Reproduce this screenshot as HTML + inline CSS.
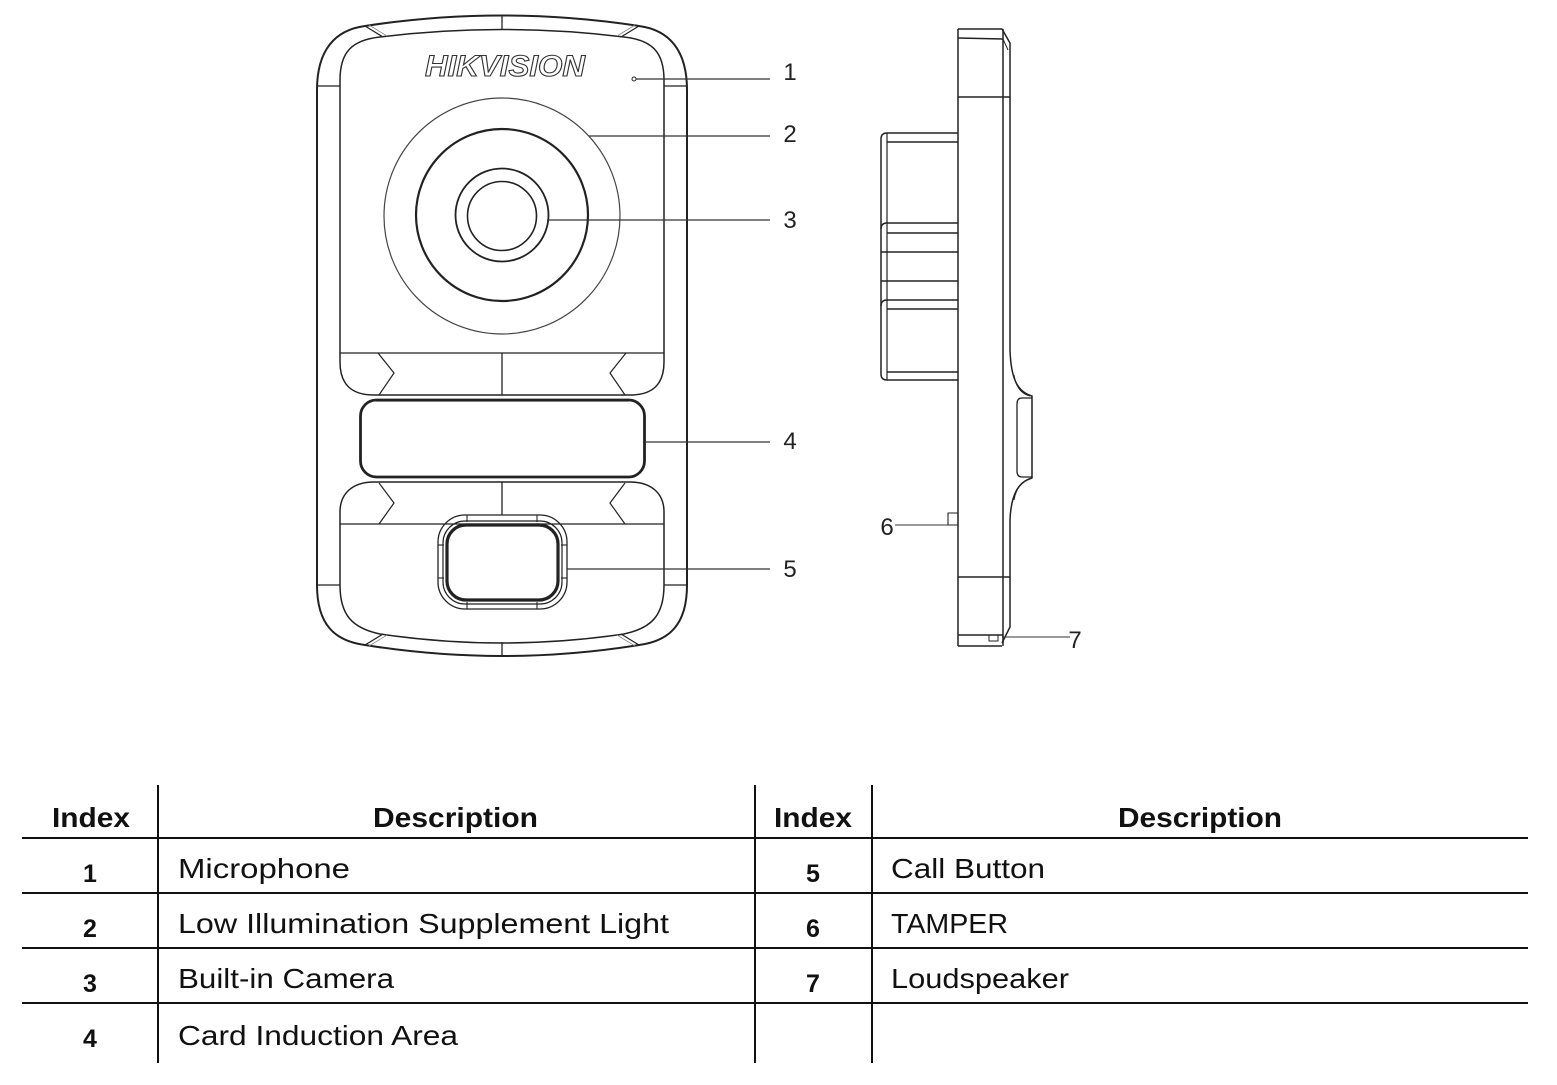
<!DOCTYPE html>
<html>
<head>
<meta charset="utf-8">
<style>
  html, body { margin:0; padding:0; background:#fff; }
  svg { display:block; }
  .t { font-family: "Liberation Sans", Arial, sans-serif; fill:#111; }
</style>
</head>
<body>
<svg width="1557" height="1085" viewBox="0 0 1557 1085" xmlns="http://www.w3.org/2000/svg">
  <rect x="0" y="0" width="1557" height="1085" fill="#fff"/>

  <!-- ================= FRONT VIEW ================= -->
  <g fill="none" stroke="#222" stroke-linejoin="round">
    <!-- outer body -->
    <path d="M317,585 L317,90 C317,50 335,30 365,26 Q502,5 639,26 C669,30 687,50 687,90 L687,585 C687,625 669,641 639,645 Q502,667 365,645 C335,641 317,625 317,585 Z" stroke-width="2"/>
    <!-- bezel top inner line -->
    <path d="M340,353 L340,80 C340,52 352,40 380,37 Q502,22 624,37 C652,40 664,52 664,80 L664,353" stroke-width="1.5"/>
    <!-- upper panel bottom segment -->
    <path d="M340,353 L340,362 C340,385 352,395 374,395 L630,395 C652,395 664,385 664,362 L664,353" stroke-width="1.5"/>
    <line x1="340" y1="353" x2="664" y2="353" stroke-width="1.3"/>
    <line x1="502" y1="353" x2="502" y2="395" stroke-width="1.3"/>
    <polyline points="378,353 394,373 379,395" stroke-width="1.2"/>
    <polyline points="626,353 610,373 625,395" stroke-width="1.2"/>

    <!-- lower panel -->
    <path d="M340,585 L340,512 C340,494 352,482 374,482 L630,482 C652,482 664,494 664,512 L664,585 C664,615 652,628 624,634 Q502,652 380,634 C352,628 340,615 340,585" stroke-width="1.5"/>
    <line x1="340" y1="524" x2="664" y2="524" stroke-width="1.3"/>
    <line x1="502" y1="482" x2="502" y2="515" stroke-width="1.3"/>
    <polyline points="379,483 394,503 379,524" stroke-width="1.2"/>
    <polyline points="625,483 610,503 625,524" stroke-width="1.2"/>

    <!-- ticks on body -->
    <line x1="317" y1="86" x2="340" y2="86" stroke-width="1.3"/>
    <line x1="664" y1="86" x2="687" y2="86" stroke-width="1.3"/>
    <line x1="317" y1="585" x2="340" y2="585" stroke-width="1.3"/>
    <line x1="664" y1="585" x2="687" y2="585" stroke-width="1.3"/>
    <line x1="502" y1="15" x2="502" y2="30" stroke-width="1.3"/>
    <line x1="502" y1="642" x2="502" y2="656" stroke-width="1.3"/>
    <line x1="365" y1="26" x2="383" y2="37" stroke-width="1.2"/>
    <line x1="369" y1="25" x2="387" y2="36" stroke-width="0.8" stroke="#888"/>
    <line x1="639" y1="26" x2="621" y2="37" stroke-width="1.2"/>
    <line x1="635" y1="25" x2="617" y2="36" stroke-width="0.8" stroke="#888"/>
    <line x1="365" y1="645" x2="383" y2="634" stroke-width="1.2"/>
    <line x1="369" y1="646" x2="387" y2="635" stroke-width="0.8" stroke="#888"/>
    <line x1="639" y1="645" x2="621" y2="634" stroke-width="1.2"/>
    <line x1="635" y1="646" x2="617" y2="635" stroke-width="0.8" stroke="#888"/>

    <!-- camera circles -->
    <circle cx="502" cy="216" r="118" stroke-width="1.2" stroke="#444"/>
    <circle cx="502" cy="215" r="86" stroke-width="2.2"/>
    <circle cx="502" cy="215" r="46.5" stroke-width="1.8"/>
    <circle cx="502" cy="216" r="34.5" stroke-width="1.6"/>

    <!-- card area -->
    <rect x="360.5" y="400" width="284" height="77" rx="16" ry="16" stroke-width="2.8"/>
    <line x1="376" y1="401.5" x2="629" y2="401.5" stroke-width="0.8" stroke="#777"/>

    <!-- call button -->
    <rect x="438" y="515" width="129" height="94" rx="27" ry="27" stroke-width="1.3"/>
    <rect x="443" y="521" width="119" height="83" rx="22" ry="22" stroke-width="1.2"/>
    <rect x="447" y="525" width="111" height="75" rx="19" ry="19" stroke-width="3.2"/>
    <line x1="467" y1="515" x2="467" y2="522" stroke-width="1.1"/>
    <line x1="537" y1="515" x2="537" y2="522" stroke-width="1.1"/>
    <line x1="467" y1="602" x2="467" y2="609" stroke-width="1.1"/>
    <line x1="537" y1="602" x2="537" y2="609" stroke-width="1.1"/>
    <line x1="438" y1="545" x2="444" y2="545" stroke-width="1.1"/>
    <line x1="438" y1="578" x2="444" y2="578" stroke-width="1.1"/>
    <line x1="561" y1="545" x2="567" y2="545" stroke-width="1.1"/>
    <line x1="561" y1="578" x2="567" y2="578" stroke-width="1.1"/>

    <!-- leader lines -->
    <g stroke="#333" stroke-width="1.2">
      <line x1="634" y1="79" x2="770" y2="79"/>
      <line x1="589" y1="136" x2="770" y2="136"/>
      <line x1="547" y1="220" x2="770" y2="220"/>
      <line x1="645" y1="442" x2="770" y2="442"/>
      <line x1="567" y1="569" x2="770" y2="569"/>
    </g>
    <circle cx="634" cy="79" r="2" stroke-width="1" fill="#fff"/>
  </g>

  <!-- logo -->
  <text x="425" y="76" font-family="Liberation Sans, Arial, sans-serif" font-size="30" font-weight="bold" font-style="italic" fill="#fff" stroke="#333" stroke-width="1.1" textLength="160" lengthAdjust="spacingAndGlyphs">HIKVISION</text>

  <!-- labels -->
  <g class="t" font-size="24" text-anchor="middle" style="fill:#222">
    <text x="790" y="80">1</text>
    <text x="790" y="142">2</text>
    <text x="790" y="228">3</text>
    <text x="790" y="449">4</text>
    <text x="790" y="577">5</text>
    <text x="887" y="535">6</text>
    <text x="1075" y="648">7</text>
  </g>

  <!-- ================= SIDE VIEW ================= -->
  <g fill="none" stroke="#222" stroke-width="1.5" stroke-linejoin="round">
    <!-- plate -->
    <path d="M958,29 L1002,29 L1010,43 L1010,350"/>
    <line x1="958" y1="29" x2="958" y2="646"/>
    <line x1="1003" y1="29" x2="1003" y2="646"/>
    <line x1="958" y1="38" x2="1003" y2="39"/>
    <line x1="1003" y1="39" x2="1008" y2="50" stroke-width="1"/>
    <line x1="958" y1="97" x2="1010" y2="97"/>
    <!-- bump -->
    <path d="M1010,350 C1011,380 1018,392 1032,396 L1032,478 C1018,482 1011,495 1010,520 L1010,627 L1002,643"/>
    <path d="M1014,375 C1016,388 1022,394 1030,396" stroke-width="1"/>
    <path d="M1014,500 C1016,488 1022,481 1030,479" stroke-width="1"/>
    <path d="M1032,398 L1022,398 Q1017,398 1017,404 L1017,471 Q1017,477 1022,477 L1032,477" stroke-width="1.3"/>
    <!-- bottom -->
    <line x1="958" y1="646" x2="1002" y2="646"/>
    <line x1="958" y1="577" x2="1010" y2="577"/>
    <line x1="958" y1="635" x2="1003" y2="635"/>
    <rect x="989" y="635" width="9" height="6" stroke-width="1"/>
    <!-- tamper -->
    <rect x="948" y="513" width="10" height="12" stroke-width="1.1"/>
    <line x1="948" y1="525" x2="895" y2="525" stroke="#333" stroke-width="1.1"/>
    <line x1="1002" y1="637" x2="1070" y2="637" stroke="#333" stroke-width="1.1"/>
    <!-- protrusion -->
    <path d="M958,133 L887,133 Q881,133 881,139 L881,374 Q881,380 887,380 L958,380"/>
    <line x1="887" y1="133" x2="887" y2="380" stroke-width="1.2"/>
    <line x1="887" y1="142" x2="958" y2="142"/>
    <path d="M958,223 L887,223 Q881,223 881,229"/>
    <line x1="887" y1="233" x2="958" y2="233"/>
    <line x1="881" y1="252" x2="958" y2="252"/>
    <line x1="881" y1="281" x2="958" y2="281"/>
    <path d="M958,300 L887,300 Q881,300 881,306"/>
    <line x1="887" y1="309" x2="958" y2="309"/>
    <line x1="887" y1="372" x2="958" y2="372"/>
  </g>

  <!-- ================= TABLE ================= -->
  <g stroke="#111" stroke-width="2">
    <line x1="158" y1="785" x2="158" y2="1063"/>
    <line x1="755" y1="785" x2="755" y2="1063"/>
    <line x1="872" y1="785" x2="872" y2="1063"/>
    <line x1="22" y1="838" x2="1528" y2="838"/>
    <line x1="22" y1="893" x2="1528" y2="893"/>
    <line x1="22" y1="948" x2="1528" y2="948"/>
    <line x1="22" y1="1003" x2="1528" y2="1003"/>
  </g>

  <g class="t" font-weight="bold" font-size="28">
    <text x="52" y="827" textLength="78" lengthAdjust="spacingAndGlyphs">Index</text>
    <text x="373" y="827" textLength="165" lengthAdjust="spacingAndGlyphs">Description</text>
    <text x="774" y="827" textLength="78" lengthAdjust="spacingAndGlyphs">Index</text>
    <text x="1118" y="827" textLength="164" lengthAdjust="spacingAndGlyphs">Description</text>
  </g>

  <g class="t" font-weight="bold" font-size="25" text-anchor="middle">
    <text x="90" y="882">1</text>
    <text x="90" y="937">2</text>
    <text x="90" y="992">3</text>
    <text x="90" y="1047">4</text>
    <text x="813" y="882">5</text>
    <text x="813" y="937">6</text>
    <text x="813" y="992">7</text>
  </g>

  <g class="t" font-size="28">
    <text x="178" y="878" textLength="172" lengthAdjust="spacingAndGlyphs">Microphone</text>
    <text x="178" y="933" textLength="491" lengthAdjust="spacingAndGlyphs">Low Illumination Supplement Light</text>
    <text x="178" y="988" textLength="216" lengthAdjust="spacingAndGlyphs">Built-in Camera</text>
    <text x="178" y="1045" textLength="280" lengthAdjust="spacingAndGlyphs">Card Induction Area</text>
    <text x="891" y="878" textLength="154" lengthAdjust="spacingAndGlyphs">Call Button</text>
    <text x="891" y="933" textLength="117" lengthAdjust="spacingAndGlyphs">TAMPER</text>
    <text x="891" y="988" textLength="178" lengthAdjust="spacingAndGlyphs">Loudspeaker</text>
  </g>
</svg>
</body>
</html>
